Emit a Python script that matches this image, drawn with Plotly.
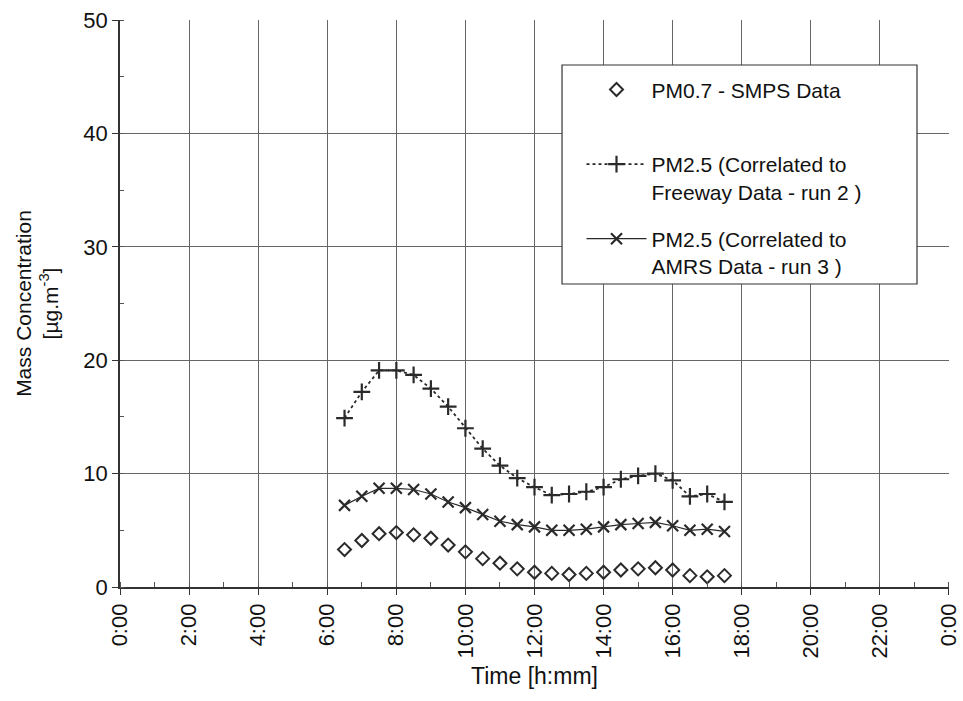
import plotly.graph_objects as go

# ---- data ----
time_h = [6.5, 7.0, 7.5, 8.0, 8.5, 9.0, 9.5, 10.0, 10.5, 11.0, 11.5, 12.0,
          12.5, 13.0, 13.5, 14.0, 14.5, 15.0, 15.5, 16.0, 16.5, 17.0, 17.5]
pm07_smps = [3.3, 4.1, 4.7, 4.8, 4.6, 4.3, 3.7, 3.1, 2.5, 2.1, 1.6, 1.3,
             1.2, 1.1, 1.2, 1.3, 1.5, 1.6, 1.7, 1.5, 1.0, 0.9, 1.0]
pm25_freeway = [14.9, 17.2, 19.1, 19.1, 18.7, 17.5, 15.9, 14.0, 12.2, 10.7, 9.6, 8.8,
                8.1, 8.2, 8.4, 8.8, 9.5, 9.8, 10.0, 9.4, 8.0, 8.2, 7.5]
pm25_amrs = [7.2, 8.0, 8.7, 8.7, 8.6, 8.2, 7.5, 7.0, 6.4, 5.8, 5.5, 5.3,
             5.0, 5.0, 5.1, 5.3, 5.5, 5.6, 5.7, 5.4, 5.0, 5.1, 4.9]

x_tickvals = [0, 2, 4, 6, 8, 10, 12, 14, 16, 18, 20, 22, 24]
x_ticktext = ["0:00", "2:00", "4:00", "6:00", "8:00", "10:00", "12:00",
              "14:00", "16:00", "18:00", "20:00", "22:00", "0:00"]
y_tickvals = [0, 10, 20, 30, 40, 50]

names = ["PM0.7 - SMPS Data<br> ",
         "PM2.5 (Correlated to<br>Freeway Data - run 2 )",
         "PM2.5 (Correlated to<br>AMRS Data - run 3 )"]

FONT = "Liberation Sans, Arial, sans-serif"
INK = "#2a2a2a"
TXT = "#111"

fig = go.Figure()
fig.add_trace(go.Scatter(
    x=time_h, y=pm07_smps, mode="markers", name=names[0], legendgroup="a",
    marker=dict(symbol="diamond-open", size=10, color=INK, line=dict(width=2, color=INK))))
fig.add_trace(go.Scatter(
    x=time_h, y=pm25_freeway, mode="lines+markers", name=names[1], legendgroup="b",
    line=dict(color=INK, width=1.8, dash="dot"),
    marker=dict(symbol="cross-thin", size=12, color=INK, line=dict(width=2.2, color=INK))))
fig.add_trace(go.Scatter(
    x=time_h, y=pm25_amrs, mode="lines+markers", name=names[2], legendgroup="c",
    line=dict(color=INK, width=1.2),
    marker=dict(symbol="x-thin", size=11, color=INK, line=dict(width=2.2, color=INK))))

# legend box
fig.add_shape(type="rect", xref="paper", yref="paper",
              x0=0.5332, x1=0.9614, y0=0.5344, y1=0.9206,
              fillcolor="white", line=dict(color="#333", width=1.2), layer="above")

fig.update_layout(
    width=963, height=701,
    margin=dict(l=120, r=14, t=20, b=114),
    paper_bgcolor="white", plot_bgcolor="white",
    font=dict(family=FONT, size=21, color=TXT),
    showlegend=True,
    legend=dict(x=0.5567, y=0.913, xanchor="left", yanchor="top",
                bgcolor="rgba(0,0,0,0)", borderwidth=0, valign="top",
                font=dict(family=FONT, size=21, color=TXT),
                itemwidth=60, tracegroupgap=17, traceorder="grouped"),
)

fig.update_xaxes(
    range=[-0.0005, 24.0005], tickvals=x_tickvals, ticktext=x_ticktext, tickangle=-90,
    ticklabeloverflow="allow", automargin=False,
    showgrid=True, gridcolor="#666", gridwidth=1,
    showline=True, linecolor="#333", linewidth=1.5, mirror=False,
    ticks="outside", ticklen=6, tickcolor="#333",
    minor=dict(dtick=1, ticks="inside", ticklen=5, tickcolor="#555", showgrid=False),
    tickfont=dict(size=22, family=FONT, color=TXT),
    title=dict(text="Time [h:mm]", font=dict(size=23, family=FONT, color=TXT), standoff=10),
    zeroline=False,
)
fig.update_yaxes(
    range=[0, 50], tickvals=y_tickvals, automargin=False,
    showgrid=True, gridcolor="#666", gridwidth=1,
    showline=True, linecolor="#333", linewidth=1.5,
    ticks="outside", ticklen=6, tickcolor="#333",
    minor=dict(dtick=5, ticks="inside", ticklen=4, tickcolor="#555", showgrid=False),
    tickfont=dict(size=22, family=FONT, color=TXT),
    title=dict(text="Mass Concentration<br>[µg.m<sup>-3</sup>]",
               font=dict(size=21, family=FONT, color=TXT), standoff=19),
    zeroline=False,
)

fig.write_html("out.html")
